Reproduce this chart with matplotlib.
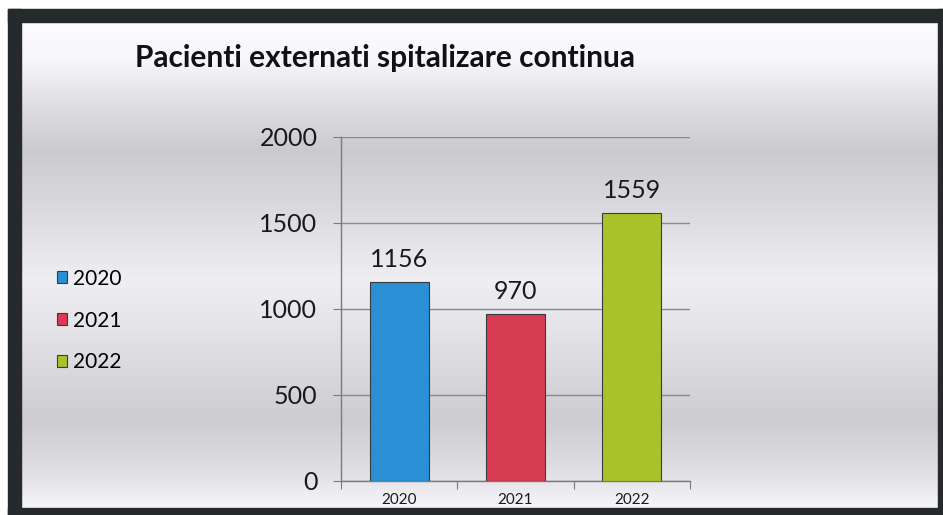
import matplotlib.pyplot as plt
import numpy as np
from matplotlib.patches import Rectangle

# Data
years = ['2020', '2021', '2022']
patients = [1156, 970, 1559]
bar_colors = ['#2a8fd4', '#d83c52', '#a9c22c']
y_ticks = [0, 500, 1000, 1500, 2000]

plt.rcParams['font.family'] = ['Lato', 'DejaVu Sans']

W, H = 943, 515
fig = plt.figure(figsize=(W / 100, H / 100), dpi=100)
fig.patch.set_facecolor('white')

# Background: scanned-looking gray gradient with dark frame
bg = fig.add_axes([0, 0, 1, 1], zorder=0)
bg.set_xlim(0, W)
bg.set_ylim(H, 0)
bg.axis('off')
stops_y = [22, 60, 100, 150, 200, 280, 330, 420, 470, 507]
stops_v = [251, 246, 224, 202, 215, 238, 227, 204, 222, 244]
yy = np.arange(22, 508)
vals = np.interp(yy, stops_y, stops_v) / 255.0
grad = np.stack([vals, vals, np.clip(vals + 0.02, 0, 1)], axis=-1)[:, None, :]
bg.imshow(grad, extent=[21, 938, 507, 22], aspect='auto', interpolation='bilinear')
frame = '#262a2c'
bg.add_patch(Rectangle((8, 9), 935, 13, color=frame, zorder=5))
bg.add_patch(Rectangle((8, 9), 13, 506, color=frame, zorder=5))
bg.add_patch(Rectangle((938, 9), 5, 506, color=frame, zorder=5))
bg.add_patch(Rectangle((8, 508), 935, 7, color=frame, zorder=5))

# Main plot
ax = fig.add_axes([341 / W, 1 - 481 / H, 349 / W, 344 / H], zorder=1)
ax.patch.set_alpha(0)
x = np.arange(len(years))
bars = ax.bar(x, patients, width=0.51, color=bar_colors,
              edgecolor='#3a3a3a', linewidth=0.8, zorder=3)
ax.bar_label(bars, labels=[str(v) for v in patients], padding=8,
             fontsize=18, color='#1a1a1a')

ax.set_xlim(-0.5, 2.5)
ax.set_ylim(0, 2000)
ax.set_yticks(y_ticks)
ax.set_yticklabels([str(v) for v in y_ticks], fontsize=18, color='#1a1a1a')
ax.yaxis.grid(True, color='#8a8a8a', linewidth=1.0, zorder=0)
ax.set_axisbelow(True)

ax.set_xticks([-0.5, 0.5, 1.5, 2.5])
ax.set_xticklabels([])
ax.set_xticks(x, minor=True)
ax.set_xticklabels(years, minor=True, fontsize=11, color='#1a1a1a')
ax.tick_params(axis='x', which='minor', length=0, pad=9)
ax.tick_params(axis='x', which='major', length=6, color='#7a7a7a', direction='out')
ax.tick_params(axis='y', length=6, color='#7a7a7a', direction='out', pad=11)

for side in ['top', 'right']:
    ax.spines[side].set_visible(False)
for side in ['left', 'bottom']:
    ax.spines[side].set_color('#7a7a7a')
    ax.spines[side].set_linewidth(1.0)

# Title
fig.text(135 / W, 1 - 58 / H, 'Pacienti externati spitalizare continua',
         fontsize=21.5, fontweight='bold', color='#111111', va='center', ha='left')

# Legend
fig.legend(bars, years, loc='upper left', bbox_to_anchor=(38 / W, 1 - 250 / H),
           frameon=False, fontsize=15, handlelength=0.5, handleheight=0.5,
           handletextpad=0.3, labelspacing=1.05)

fig.savefig('out.png', dpi=100)
